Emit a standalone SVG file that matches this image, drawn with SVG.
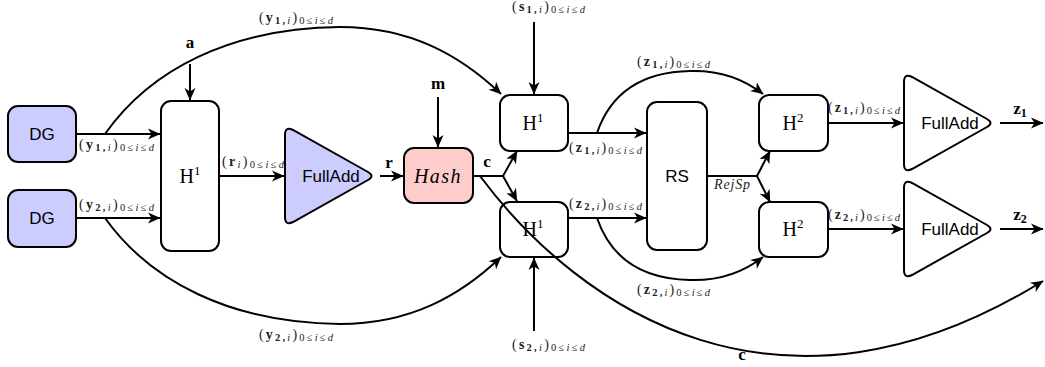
<svg xmlns="http://www.w3.org/2000/svg" width="1045" height="367" viewBox="0 0 1045 367">
<defs>
<style>
.box{stroke:#000;stroke-width:2;fill:#fff}
.blue{fill:#ccccff}
.pink{fill:#ffcccc}
.conn path{fill:none;stroke:#000;stroke-width:2}
.sans{font-family:"Liberation Sans","DejaVu Sans",sans-serif;font-size:17px;text-anchor:middle}
.h{font-family:"Liberation Serif","DejaVu Serif",serif;font-size:20px;text-anchor:middle}
.lbl{font-family:"Liberation Serif","DejaVu Serif",serif;font-size:14px;fill:#222}
.bl{font-family:"Liberation Serif","DejaVu Serif",serif;font-size:17px;font-weight:bold;text-anchor:middle}
.b{font-weight:bold}
.s{font-size:10.5px}
.i{font-style:italic}
</style>
<marker id="ar" viewBox="-13 -7 14 14" refX="0" refY="0" markerWidth="14" markerHeight="14" markerUnits="userSpaceOnUse" orient="auto">
<path d="M0.5,0 L-12,-5.5 L-8.5,0 L-12,5.5 Z" fill="#000"/>
</marker>
</defs>
<rect width="1045" height="367" fill="#fff"/>

<g id="dg1"><rect class="box blue" x="8" y="106" width="68" height="56" rx="10"/><text class="sans" x="42" y="140">DG</text></g>
<g id="dg2"><rect class="box blue" x="8" y="190" width="68" height="57" rx="10"/><text class="sans" x="42" y="224">DG</text></g>
<g id="h1a"><rect class="box" x="161" y="101" width="58" height="150" rx="10"/><text class="h" x="190" y="183">H<tspan font-size="13" dy="-8">1</tspan></text></g>
<g id="fa1"><path class="box blue" d="M285,135 Q285,126 293,130 L368,172 Q375,176 368,180 L293,222 Q285,226 285,217 Z"/><text class="sans" x="331" y="182">FullAdd</text></g>
<g id="hash"><rect class="box pink" x="404" y="148" width="69" height="55" rx="10"/><text class="h i" x="438" y="183" letter-spacing="1.5">Hash</text></g>
<g id="h1b"><rect class="box" x="500" y="95" width="68" height="56" rx="10"/><text class="h" x="533" y="130">H<tspan font-size="13" dy="-8">1</tspan></text></g>
<g id="h1c"><rect class="box" x="500" y="202" width="68" height="55" rx="10"/><text class="h" x="533" y="236">H<tspan font-size="13" dy="-8">1</tspan></text></g>
<g id="rs"><rect class="box" x="647" y="102" width="60" height="148" rx="10"/><text class="sans" x="677" y="182">RS</text></g>
<g id="h2a"><rect class="box" x="759" y="95" width="69" height="56" rx="10"/><text class="h" x="793" y="130">H<tspan font-size="13" dy="-8">2</tspan></text></g>
<g id="h2b"><rect class="box" x="759" y="202" width="69" height="55" rx="10"/><text class="h" x="793" y="236">H<tspan font-size="13" dy="-8">2</tspan></text></g>
<g id="fa2"><path class="box" d="M904,82 Q904,73 912,77 L987,119 Q994,123 987,127 L912,169 Q904,173 904,164 Z"/><text class="sans" x="950" y="129">FullAdd</text></g>
<g id="fa3"><path class="box" d="M904,188 Q904,179 912,183 L987,225 Q994,229 987,233 L912,275 Q904,279 904,270 Z"/><text class="sans" x="950" y="235">FullAdd</text></g>

<g id="connectors" class="conn">
<path d="M76,134 H160" marker-end="url(#ar)"/>
<path d="M76,218 H160" marker-end="url(#ar)"/>
<path d="M105,134 C150,70 230,28 340,27 C410,27 460,55 501,94" marker-end="url(#ar)"/>
<path d="M105,218 C150,281 230,323 340,324 C410,324 460,296 501,257" marker-end="url(#ar)"/>
<path d="M190,64 V100" marker-end="url(#ar)"/>
<path d="M219,176 H284" marker-end="url(#ar)"/>
<path d="M380,176 H403" marker-end="url(#ar)"/>
<path d="M438,97 V147" marker-end="url(#ar)"/>
<path d="M473,176 H503"/>
<path d="M503,176 L517,151" marker-end="url(#ar)"/>
<path d="M503,176 L517,201" marker-end="url(#ar)"/>
<path d="M480,176 C580,310 780,444 1043,281" marker-end="url(#ar)"/>
<path d="M534,22 V94" marker-end="url(#ar)"/>
<path d="M534,331 V258" marker-end="url(#ar)"/>
<path d="M568,133 H646" marker-end="url(#ar)"/>
<path d="M568,218 H646" marker-end="url(#ar)"/>
<path d="M597,133 C610,95 640,72 690,71 C720,70 745,80 763,94" marker-end="url(#ar)"/>
<path d="M597,218 C610,256 640,279 690,280 C720,281 745,271 763,257" marker-end="url(#ar)"/>
<path d="M707,176 H757"/>
<path d="M757,176 L770,151" marker-end="url(#ar)"/>
<path d="M757,176 L770,202" marker-end="url(#ar)"/>
<path d="M828,123 H903" marker-end="url(#ar)"/>
<path d="M828,229 H903" marker-end="url(#ar)"/>
<path d="M1000,123 H1043" marker-end="url(#ar)"/>
<path d="M1000,229 H1043" marker-end="url(#ar)"/>
</g>

<g id="labels">
<text class="lbl" x="259" y="22" textLength="74" lengthAdjust="spacing">(<tspan class="b">y</tspan><tspan class="s b" dy="2">1,</tspan><tspan class="s i" >i</tspan><tspan dy="-2">)</tspan><tspan class="s" dy="2">0≤</tspan><tspan class="s i">i</tspan><tspan class="s">≤</tspan><tspan class="s i">d</tspan></text>
<text class="lbl" x="79" y="149" textLength="75" lengthAdjust="spacing">(<tspan class="b">y</tspan><tspan class="s b" dy="2">1,</tspan><tspan class="s i" >i</tspan><tspan dy="-2">)</tspan><tspan class="s" dy="2">0≤</tspan><tspan class="s i">i</tspan><tspan class="s">≤</tspan><tspan class="s i">d</tspan></text>
<text class="lbl" x="79" y="209" textLength="75" lengthAdjust="spacing">(<tspan class="b">y</tspan><tspan class="s b" dy="2">2,</tspan><tspan class="s i" >i</tspan><tspan dy="-2">)</tspan><tspan class="s" dy="2">0≤</tspan><tspan class="s i">i</tspan><tspan class="s">≤</tspan><tspan class="s i">d</tspan></text>
<text class="lbl" x="259" y="339" textLength="74" lengthAdjust="spacing">(<tspan class="b">y</tspan><tspan class="s b" dy="2">2,</tspan><tspan class="s i" >i</tspan><tspan dy="-2">)</tspan><tspan class="s" dy="2">0≤</tspan><tspan class="s i">i</tspan><tspan class="s">≤</tspan><tspan class="s i">d</tspan></text>
<text class="lbl" x="222" y="166" textLength="62" lengthAdjust="spacing">(<tspan class="b">r</tspan><tspan class="s i" dy="2">i</tspan><tspan dy="-2">)</tspan><tspan class="s" dy="2">0≤</tspan><tspan class="s i">i</tspan><tspan class="s">≤</tspan><tspan class="s i">d</tspan></text>
<text class="lbl" x="512" y="11" textLength="73" lengthAdjust="spacing">(<tspan class="b">s</tspan><tspan class="s b" dy="2">1,</tspan><tspan class="s i" >i</tspan><tspan dy="-2">)</tspan><tspan class="s" dy="2">0≤</tspan><tspan class="s i">i</tspan><tspan class="s">≤</tspan><tspan class="s i">d</tspan></text>
<text class="lbl" x="512" y="349" textLength="73" lengthAdjust="spacing">(<tspan class="b">s</tspan><tspan class="s b" dy="2">2,</tspan><tspan class="s i" >i</tspan><tspan dy="-2">)</tspan><tspan class="s" dy="2">0≤</tspan><tspan class="s i">i</tspan><tspan class="s">≤</tspan><tspan class="s i">d</tspan></text>
<text class="lbl" x="569" y="152" textLength="73" lengthAdjust="spacing">(<tspan class="b">z</tspan><tspan class="s b" dy="2">1,</tspan><tspan class="s i" >i</tspan><tspan dy="-2">)</tspan><tspan class="s" dy="2">0≤</tspan><tspan class="s i">i</tspan><tspan class="s">≤</tspan><tspan class="s i">d</tspan></text>
<text class="lbl" x="569" y="208" textLength="73" lengthAdjust="spacing">(<tspan class="b">z</tspan><tspan class="s b" dy="2">2,</tspan><tspan class="s i" >i</tspan><tspan dy="-2">)</tspan><tspan class="s" dy="2">0≤</tspan><tspan class="s i">i</tspan><tspan class="s">≤</tspan><tspan class="s i">d</tspan></text>
<text class="lbl" x="637" y="66" textLength="73" lengthAdjust="spacing">(<tspan class="b">z</tspan><tspan class="s b" dy="2">1,</tspan><tspan class="s i" >i</tspan><tspan dy="-2">)</tspan><tspan class="s" dy="2">0≤</tspan><tspan class="s i">i</tspan><tspan class="s">≤</tspan><tspan class="s i">d</tspan></text>
<text class="lbl" x="637" y="294" textLength="73" lengthAdjust="spacing">(<tspan class="b">z</tspan><tspan class="s b" dy="2">2,</tspan><tspan class="s i" >i</tspan><tspan dy="-2">)</tspan><tspan class="s" dy="2">0≤</tspan><tspan class="s i">i</tspan><tspan class="s">≤</tspan><tspan class="s i">d</tspan></text>
<text class="lbl" x="828" y="112" textLength="72" lengthAdjust="spacing">(<tspan class="b">z</tspan><tspan class="s b" dy="2">1,</tspan><tspan class="s i" >i</tspan><tspan dy="-2">)</tspan><tspan class="s" dy="2">0≤</tspan><tspan class="s i">i</tspan><tspan class="s">≤</tspan><tspan class="s i">d</tspan></text>
<text class="lbl" x="828" y="219" textLength="72" lengthAdjust="spacing">(<tspan class="b">z</tspan><tspan class="s b" dy="2">2,</tspan><tspan class="s i" >i</tspan><tspan dy="-2">)</tspan><tspan class="s" dy="2">0≤</tspan><tspan class="s i">i</tspan><tspan class="s">≤</tspan><tspan class="s i">d</tspan></text>
<text class="lbl i" x="714" y="189" font-size="10" textLength="36" lengthAdjust="spacing">RejSp</text>
<text class="bl" x="190" y="48">a</text>
<text class="bl" x="389" y="168">r</text>
<text class="bl" x="438" y="89">m</text>
<text class="bl" x="487" y="167">c</text>
<text class="bl" x="742" y="360" font-size="13">c</text>
<text class="bl" x="1020" y="114">z<tspan font-size="12" dy="3">1</tspan></text>
<text class="bl" x="1020" y="220">z<tspan font-size="12" dy="3">2</tspan></text>
</g>
</svg>
